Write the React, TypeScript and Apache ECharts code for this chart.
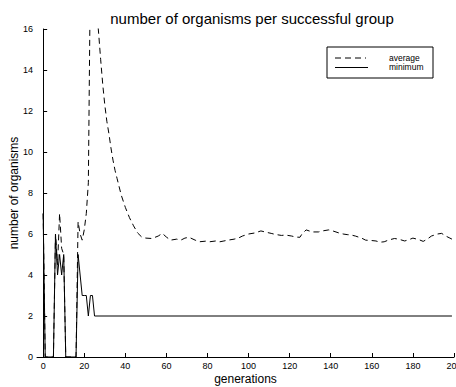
import React, { useEffect, useRef } from "react";
import * as echarts from "echarts";

const title = "number of organisms per successful group";
const xName = "generations";
const yName = "number of organisms";
const legendNames = ["average", "minimum"];
const xTicks = [0, 20, 40, 60, 80, 100, 120, 140, 160, 180, 200];

// [generation, value]
const averageData: [number, number][] = [
  [0, 7], [1, 0], [5, 0], [6, 6], [7, 4.5], [8, 7], [9, 5.3], [10, 5], [11, 0],
  [16, 0], [17, 6.6], [18, 6.0], [19, 5.7], [20, 6.2], [21, 7.0], [22, 8.5],
  [23, 19], [24, 20], [25, 18.5], [26, 17], [27, 15.8], [28, 14.5], [29, 13.3],
  [30, 12.3], [31, 11.5], [32, 10.9], [33, 10.2], [34, 9.6], [35, 9.1], [36, 8.7],
  [37, 8.3], [38, 7.9], [39, 7.6], [40, 7.3], [42, 6.8], [44, 6.4], [46, 6.05],
  [48, 5.85], [50, 5.8], [53, 5.78], [56, 5.9], [58, 6.03], [60, 5.85], [62, 5.7],
  [65, 5.75], [67, 5.7], [69, 5.8], [71, 5.84], [74, 5.7], [76, 5.62], [79, 5.65],
  [81, 5.62], [84, 5.66], [86, 5.62], [88, 5.66], [90, 5.7], [93, 5.75], [95, 5.8],
  [97, 5.9], [100, 6.0], [103, 6.05], [106, 6.15], [108, 6.1], [111, 6.03],
  [113, 5.98], [116, 5.93], [118, 5.95], [121, 5.9], [123, 5.85], [125, 5.84],
  [126, 6.0], [128, 6.2], [131, 6.1], [134, 6.1], [136, 6.15], [139, 6.2],
  [141, 6.15], [144, 6.05], [146, 6.0], [148, 5.97], [150, 5.95], [152, 5.9],
  [155, 5.8], [157, 5.7], [160, 5.68], [162, 5.66], [164, 5.6], [166, 5.62],
  [168, 5.7], [171, 5.78], [173, 5.75], [176, 5.66], [178, 5.72], [180, 5.8],
  [183, 5.72], [185, 5.64], [187, 5.75], [189, 5.9], [192, 6.0], [194, 6.03],
  [196, 5.9], [198, 5.8], [199, 5.75],
];

const minimumData: [number, number][] = [
  [0, 7], [1, 0], [5, 0], [6, 6], [7, 4], [8, 5], [9, 4], [10, 5], [11, 0],
  [16, 0], [17, 5], [18, 4], [19, 3], [20, 3], [21, 3], [22, 2], [23, 3],
  [24, 3], [25, 2], [199, 2],
];

const FONT = "Liberation Sans, Arial, Helvetica, sans-serif";

export default function App() {
  const ref = useRef<HTMLDivElement>(null);
  useEffect(() => {
    if (!ref.current) return;
    const chart = echarts.init(ref.current, null, { renderer: "svg" });
    chart.setOption({
      animation: false,
      backgroundColor: "#ffffff",
      textStyle: { fontFamily: FONT, color: "#000" },
      title: {
        text: title,
        left: 247,
        top: 6,
        textAlign: "center",
        textStyle: { fontFamily: FONT, fontSize: 15, fontWeight: "normal", color: "#000" },
      },
      grid: { left: 37, top: 29, width: 417, height: 328, containLabel: false, outerBoundsMode: "none" },
      xAxis: {
        type: "value",
        min: -3,
        max: 200,
        name: xName,
        nameLocation: "middle",
        nameGap: 16,
        nameMoveOverlap: false,
        nameTextStyle: { fontFamily: FONT, fontSize: 12, color: "#000" },
        axisLine: { show: true, onZero: false, lineStyle: { color: "#000", width: 1 } },
        axisTick: { show: true, inside: true, length: 4, customValues: xTicks, lineStyle: { color: "#000" } },
        axisLabel: { customValues: xTicks, fontSize: 9, color: "#000", margin: 4, fontFamily: FONT, hideOverlap: false },
        splitLine: { show: false },
      },
      yAxis: {
        type: "value",
        min: 0,
        max: 16,
        interval: 2,
        name: yName,
        nameLocation: "middle",
        nameGap: 17,
        nameMoveOverlap: false,
        nameTextStyle: { fontFamily: FONT, fontSize: 12, color: "#000" },
        axisLine: { show: true, lineStyle: { color: "#000", width: 1 } },
        axisTick: { show: true, inside: true, length: 4, lineStyle: { color: "#000" } },
        axisLabel: { fontSize: 9, color: "#000", margin: 4, fontFamily: FONT },
        splitLine: { show: false },
      },
      series: [
        {
          name: legendNames[0],
          type: "line",
          data: averageData,
          symbol: "none",
          clip: true,
          lineStyle: { color: "#000", width: 1, type: [6, 4] },
        },
        {
          name: legendNames[1],
          type: "line",
          data: minimumData,
          symbol: "none",
          clip: true,
          lineStyle: { color: "#000", width: 1, type: "solid" },
        },
      ],
      graphic: [
        {
          type: "rect",
          shape: { x: 327, y: 47, width: 106, height: 31 },
          style: { fill: "#fff", stroke: "#000", lineWidth: 1 },
          z: 10,
        },
        {
          type: "line",
          shape: { x1: 335, y1: 58, x2: 366, y2: 58 },
          style: { stroke: "#000", lineWidth: 1, lineDash: [6, 4] },
          z: 11,
        },
        {
          type: "line",
          shape: { x1: 335, y1: 67.5, x2: 368, y2: 67.5 },
          style: { stroke: "#000", lineWidth: 1 },
          z: 11,
        },
        {
          type: "text",
          x: 389,
          y: 58,
          style: { text: legendNames[0], fontSize: 8.5, lineHeight: 8, fontFamily: FONT, fill: "#000", verticalAlign: "middle" },
          z: 11,
        },
        {
          type: "text",
          x: 389,
          y: 67,
          style: { text: legendNames[1], fontSize: 8.5, lineHeight: 8, fontFamily: FONT, fill: "#000", verticalAlign: "middle" },
          z: 11,
        },
      ],
    });
    return () => chart.dispose();
  }, []);
  return <div ref={ref} style={{ width: 456, height: 387, position: "absolute", left: 0, top: 0 }} />;
}
